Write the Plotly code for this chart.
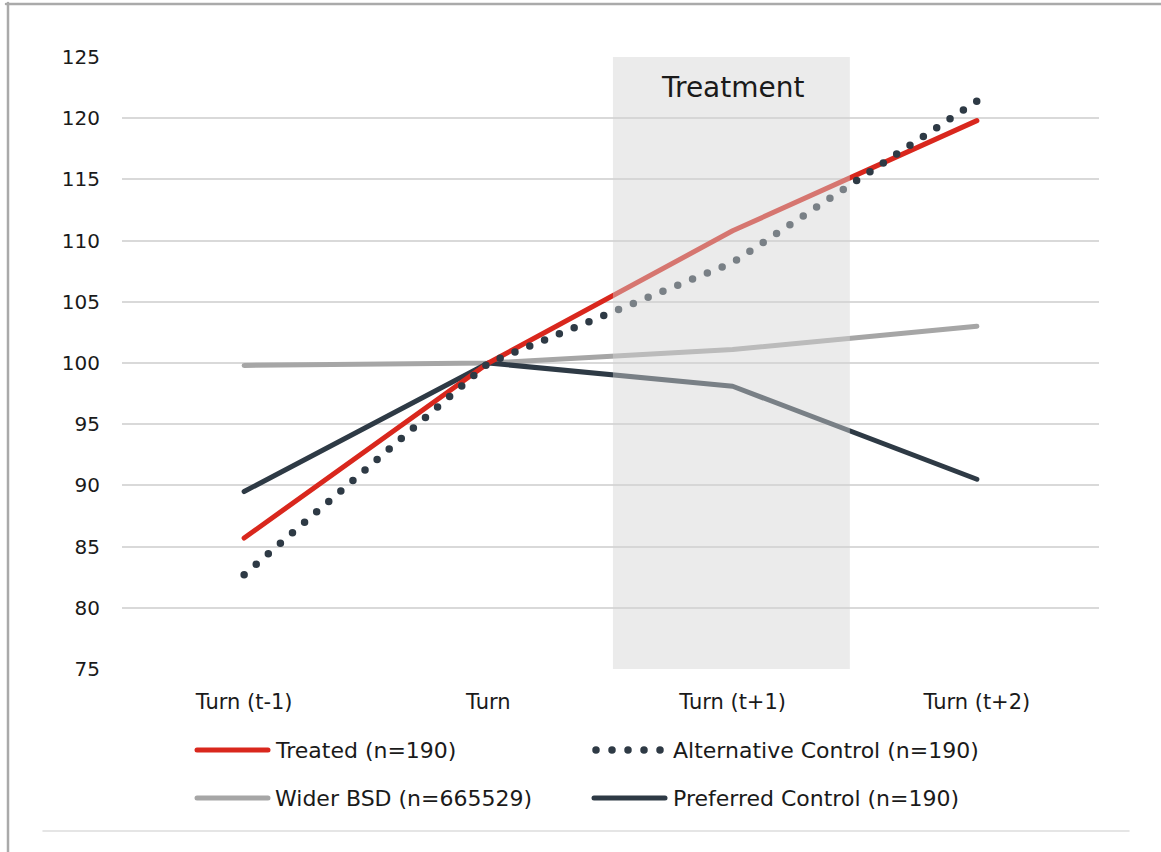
import plotly.graph_objects as go

# Periods on the x axis
periods = ["Turn (t-1)", "Turn", "Turn (t+1)", "Turn (t+2)"]

# Indexed series (Turn = 100)
treated = [85.7, 100.0, 110.8, 119.8]
alternative_control = [82.7, 100.0, 108.2, 121.4]
wider_bsd = [99.8, 100.0, 101.1, 103.0]
preferred_control = [89.5, 100.0, 98.1, 90.5]

series_names = [
    "Treated (n=190)",
    "Alternative Control (n=190)",
    "Wider BSD (n=665529)",
    "Preferred Control (n=190)",
]

y_ticks = [75, 80, 85, 90, 95, 100, 105, 110, 115, 120, 125]

# Treatment window on the category axis
treat_start, treat_end = 1.51, 2.48

RED = "#d9271d"
DARK = "#2e3a45"
GREY = "#a6a6a6"
DOTS = "0px,16px"
FONT = "DejaVu Sans"

W, H = 1161, 852
L, R, T, B = 122, 62, 57, 183


def px_x(px):
    return (px - L) / (W - L - R)


def px_y(py):
    return (H - B - py) / (H - T - B)


fig = go.Figure()
fig.add_trace(go.Scatter(x=periods, y=wider_bsd, mode="lines", name=series_names[2],
                         line=dict(color=GREY, width=5)))
fig.add_trace(go.Scatter(x=periods, y=preferred_control, mode="lines", name=series_names[3],
                         line=dict(color=DARK, width=5)))
fig.add_trace(go.Scatter(x=periods, y=treated, mode="lines", name=series_names[0],
                         line=dict(color=RED, width=5)))
fig.add_trace(go.Scatter(x=periods, y=alternative_control, mode="lines", name=series_names[1],
                         line=dict(color=DARK, width=7.5, dash=DOTS)))

shapes = [
    # translucent treatment band laid over the lines
    dict(type="rect", xref="x", yref="y", x0=treat_start, x1=treat_end, y0=y_ticks[0], y1=y_ticks[-1],
         fillcolor="rgba(211,211,211,0.46)", line=dict(width=0), layer="above"),
    # outer frame (top and left edges) and bottom rule
    dict(type="line", xref="paper", yref="paper", x0=px_x(6), x1=px_x(1161), y0=px_y(4), y1=px_y(4),
         line=dict(color="#aaaaaa", width=2.5)),
    dict(type="line", xref="paper", yref="paper", x0=px_x(8), x1=px_x(8), y0=px_y(3), y1=px_y(852),
         line=dict(color="#aaaaaa", width=2.5)),
    dict(type="line", xref="paper", yref="paper", x0=px_x(43), x1=px_x(1129), y0=px_y(831), y1=px_y(831),
         line=dict(color="#dddddd", width=1.5)),
]

# Legend built from line samples and labels
legend_items = [
    (series_names[0], RED, None, 5, 197, 268, 273, 750),
    (series_names[1], DARK, DOTS, 7.5, 596, 661, 671, 750),
    (series_names[2], GREY, None, 5, 197, 268, 273, 798),
    (series_names[3], DARK, None, 5, 594, 665, 671, 798),
]
annotations = []
for name, color, dash, width, xs0, xs1, xt, yr in legend_items:
    ln = dict(color=color, width=width)
    if dash:
        ln["dash"] = dash
    shapes.append(dict(type="line", xref="paper", yref="paper", x0=px_x(xs0), x1=px_x(xs1),
                       y0=px_y(yr), y1=px_y(yr), line=ln))
    annotations.append(dict(xref="paper", yref="paper", x=px_x(xt), y=px_y(yr), text=name,
                            showarrow=False, xanchor="left", yanchor="middle",
                            font=dict(family=FONT, size=22, color="#1a1a1a")))

annotations.append(dict(xref="x", yref="y", x=2, y=122.5, text="Treatment", showarrow=False,
                        xanchor="center", yanchor="middle",
                        font=dict(family=FONT, size=28, color="#1a1a1a")))

fig.update_layout(
    width=W, height=H,
    margin=dict(l=L, r=R, t=T, b=B),
    paper_bgcolor="white", plot_bgcolor="white",
    showlegend=False,
    shapes=shapes,
    annotations=annotations,
    font=dict(family=FONT, size=20, color="#1a1a1a"),
)
fig.update_xaxes(type="category", categoryorder="array", categoryarray=periods,
                 range=[-0.5, len(periods) - 0.5],
                 showgrid=False, showline=False, zeroline=False, ticks="",
                 ticklabelstandoff=18, tickfont=dict(size=21))
fig.update_yaxes(range=[y_ticks[0], y_ticks[-1]], tickvals=y_ticks, showgrid=True,
                 gridcolor="#d9d9d9", gridwidth=2, zeroline=False, showline=False, ticks="",
                 ticklabelstandoff=21, tickfont=dict(size=20))

post = """
document.querySelectorAll('.js-line, .shapelayer path').forEach(function(p){
  p.style.strokeLinecap = 'round';
  p.style.strokeLinejoin = 'round';
});
"""
fig.write_html("out.html", post_script=post)
